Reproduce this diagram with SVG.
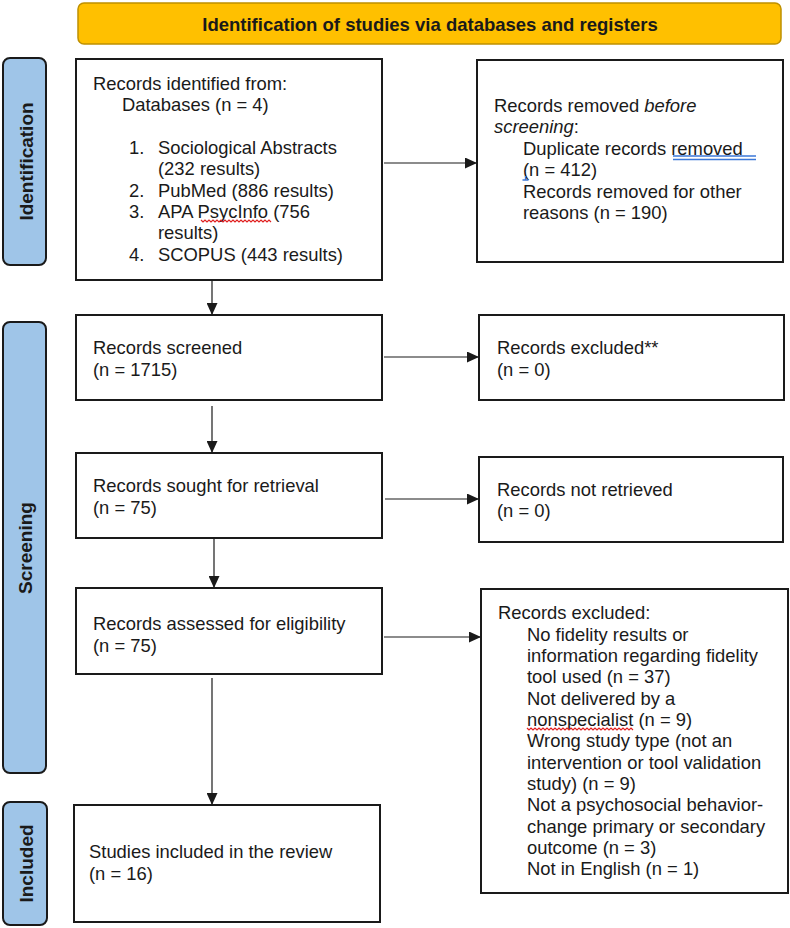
<svg xmlns="http://www.w3.org/2000/svg" width="790" height="928" viewBox="0 0 790 928">
<style>
.box{fill:#fff;stroke:#1a1a1a;stroke-width:2}
.lbl{fill:#9fc5e8;stroke:#1a1a1a;stroke-width:2}
.ban{fill:#ffc000;stroke:#bf9000;stroke-width:1.5}
.t{font-family:"Liberation Sans",Arial,sans-serif;font-size:18.4px;fill:#1a1a1a}
.b{font-family:"Liberation Sans",Arial,sans-serif;font-weight:bold;font-size:19px;fill:#1a1a1a;text-anchor:middle}
.conn{stroke:#1a1a1a;stroke-width:1.2;fill:none;marker-end:url(#ah)}
.sq{fill:none;stroke:#e02020;stroke-width:1.2}
.bl{fill:none;stroke:#3c78d8;stroke-width:1.3}
</style>
<defs>
<marker id="ah" markerUnits="userSpaceOnUse" markerWidth="12" markerHeight="11" refX="12" refY="5.5" orient="auto">
<path d="M0,0 L12,5.5 L0,11 z" fill="#1a1a1a"/>
</marker>
</defs>
<rect width="790" height="928" fill="#fff"/>

<g id="banner">
<rect class="ban" x="78" y="3" width="703" height="41" rx="6"/>
<text class="b" x="430" y="31" style="font-size:18.5px">Identification of studies via databases and registers</text>
</g>

<g id="label-identification">
<rect class="lbl" x="3" y="58" width="43" height="207" rx="7"/>
<text class="b" transform="translate(32.5,161.5) rotate(-90)" x="0" y="0">Identification</text>
</g>
<g id="label-screening">
<rect class="lbl" x="3" y="322" width="43" height="451" rx="7"/>
<text class="b" transform="translate(31.5,548) rotate(-90)" x="0" y="0">Screening</text>
</g>
<g id="label-included">
<rect class="lbl" x="3" y="802" width="44" height="123" rx="7"/>
<text class="b" transform="translate(32.5,863.5) rotate(-90)" x="0" y="0">Included</text>
</g>

<g id="connectors">
<path class="conn" d="M212,280 V315"/>
<path class="conn" d="M212,406 V453"/>
<path class="conn" d="M214,538 V588"/>
<path class="conn" d="M212,678 V805"/>
<path class="conn" d="M384,163 H477"/>
<path class="conn" d="M384,357 H479"/>
<path class="conn" d="M385,499 H479"/>
<path class="conn" d="M384,637 H481"/>
</g>

<g id="identified">
<rect class="box" x="76" y="59" width="306" height="221"/>
<text class="t">
<tspan x="93" y="90">Records identified from:</tspan>
<tspan x="122" y="111">Databases (n = 4)</tspan>
<tspan x="129" y="154">1.</tspan><tspan x="158" y="154">Sociological Abstracts</tspan>
<tspan x="158" y="175">(232 results)</tspan>
<tspan x="129" y="197">2.</tspan><tspan x="158" y="197">PubMed (886 results)</tspan>
<tspan x="129" y="218">3.</tspan><tspan x="158" y="218">APA PsycInfo (756</tspan>
<tspan x="158" y="239">results)</tspan>
<tspan x="129" y="261">4.</tspan><tspan x="158" y="261">SCOPUS (443 results)</tspan>
</text>
<path class="sq" d="M201,220 l2,2 l2,-2 l2,2 l2,-2 l2,2 l2,-2 l2,2 l2,-2 l2,2 l2,-2 l2,2 l2,-2 l2,2 l2,-2 l2,2 l2,-2 l2,2 l2,-2 l2,2 l2,-2 l2,2 l2,-2 l2,2 l2,-2 l2,2 l2,-2 l2,2 l2,-2 l2,2 l2,-2 l2,2 l2,-2 l2,2 l2,-2 l2,2"/>
</g>

<g id="removed">
<rect class="box" x="477" y="60" width="306" height="202"/>
<text class="t">
<tspan x="494" y="112">Records removed <tspan font-style="italic">before</tspan></tspan>
<tspan x="494" y="133"><tspan font-style="italic">screening</tspan>:</tspan>
<tspan x="523" y="155">Duplicate records removed</tspan>
<tspan x="523" y="176">(n = 412)</tspan>
<tspan x="523" y="198">Records removed for other</tspan>
<tspan x="523" y="219">reasons (n = 190)</tspan>
</text>
<path class="bl" d="M673,156 H756 M673,159.5 H756 M522.5,180 H528.5 M525.5,176 V180"/>
</g>

<g id="screened">
<rect class="box" x="76" y="315" width="306" height="85"/>
<text class="t"><tspan x="93" y="354">Records screened</tspan><tspan x="93" y="376">(n = 1715)</tspan></text>
</g>

<g id="excluded1">
<rect class="box" x="479" y="315" width="305" height="85"/>
<text class="t"><tspan x="497" y="354">Records excluded**</tspan><tspan x="497" y="376">(n = 0)</tspan></text>
</g>

<g id="sought">
<rect class="box" x="76" y="453" width="306" height="85"/>
<text class="t"><tspan x="93" y="492">Records sought for retrieval</tspan><tspan x="93" y="514">(n = 75)</tspan></text>
</g>

<g id="notretrieved">
<rect class="box" x="479" y="457" width="304" height="85"/>
<text class="t"><tspan x="497" y="496">Records not retrieved</tspan><tspan x="497" y="517">(n = 0)</tspan></text>
</g>

<g id="assessed">
<rect class="box" x="76" y="588" width="306" height="86"/>
<text class="t"><tspan x="93" y="630">Records assessed for eligibility</tspan><tspan x="93" y="652">(n = 75)</tspan></text>
</g>

<g id="excluded2">
<rect class="box" x="481" y="589" width="307" height="304"/>
<text class="t">
<tspan x="498" y="619">Records excluded:</tspan>
<tspan x="527" y="640.5">No fidelity results or</tspan>
<tspan x="527" y="662">information regarding fidelity</tspan>
<tspan x="527" y="683">tool used (n = 37)</tspan>
<tspan x="527" y="704.5">Not delivered by a</tspan>
<tspan x="527" y="726">nonspecialist (n = 9)</tspan>
<tspan x="527" y="747">Wrong study type (not an</tspan>
<tspan x="527" y="768.5">intervention or tool validation</tspan>
<tspan x="527" y="790">study) (n = 9)</tspan>
<tspan x="527" y="811">Not a psychosocial behavior-</tspan>
<tspan x="527" y="832.5">change primary or secondary</tspan>
<tspan x="527" y="854">outcome (n = 3)</tspan>
<tspan x="527" y="875">Not in English (n = 1)</tspan>
</text>
<path class="sq" d="M527,728 l2,2 l2,-2 l2,2 l2,-2 l2,2 l2,-2 l2,2 l2,-2 l2,2 l2,-2 l2,2 l2,-2 l2,2 l2,-2 l2,2 l2,-2 l2,2 l2,-2 l2,2 l2,-2 l2,2 l2,-2 l2,2 l2,-2 l2,2 l2,-2 l2,2 l2,-2 l2,2 l2,-2 l2,2 l2,-2 l2,2 l2,-2 l2,2 l2,-2 l2,2 l2,-2 l2,2 l2,-2 l2,2 l2,-2 l2,2 l2,-2 l2,2 l2,-2 l2,2 l2,-2 l2,2 l2,-2 l2,2 l2,-2 l2,2"/>
</g>

<g id="included">
<rect class="box" x="74" y="805" width="306" height="117"/>
<text class="t"><tspan x="89" y="858">Studies included in the review</tspan><tspan x="89" y="880">(n = 16)</tspan></text>
</g>
</svg>
